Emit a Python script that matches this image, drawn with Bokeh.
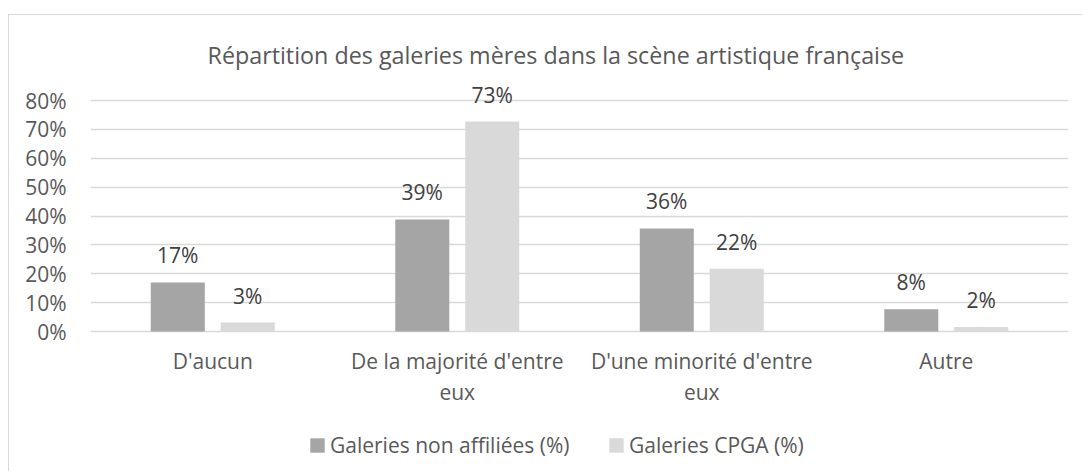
from bokeh.plotting import figure
from bokeh.models import (ColumnDataSource, Range1d, FactorRange, FixedTicker,
                          PrintfTickFormatter, Legend, LegendItem)
from bokeh.transform import dodge
from bokeh.embed import file_html
from bokeh.resources import INLINE

categories = ["D'aucun", "De la majorité d'entre\neux", "D'une minorité d'entre\neux", "Autre"]
non_affiliees = [17, 38.8, 35.7, 7.7]
cpga = [3.1, 72.7, 21.7, 1.6]
series_names = ["Galeries non affiliées (%)", "Galeries CPGA (%)"]
y_ticks = [0, 10, 20, 30, 40, 50, 60, 70, 80]
title_text = "Répartition des galeries mères dans la scène artistique française"

FONT = "Open Sans"
TXT = "#595959"

src = ColumnDataSource(dict(
    cat=categories,
    a=non_affiliees,
    b=cpga,
    zero=[0] * len(categories),
    la=[f"{round(v)}%" for v in non_affiliees],
    lb=[f"{round(v)}%" for v in cpga],
))

p = figure(width=1074, height=457, x_range=FactorRange(factors=categories, range_padding=0),
           y_range=Range1d(-48.83, 85.89), output_backend="svg", toolbar_location=None,
           min_border_left=81, min_border_right=15, min_border_top=68, min_border_bottom=0)
p.styles = {"margin-top": "14px", "margin-left": "8px",
            "border-left": "1px solid #D9D9D9", "border-top": "1px solid #D9D9D9"}
p.outline_line_color = None
p.background_fill_color = "white"
p.border_fill_color = "white"

p.title.text = title_text
p.title.text_font = FONT
p.title.text_font_size = "23.3px"
p.title.text_font_style = "normal"
p.title.text_color = TXT
p.title.align = "left"
p.title.offset = 117
p.title.standoff = 26

ra = p.vbar(x=dodge("cat", -0.143, range=p.x_range), top="a", width=0.221, source=src,
            fill_color="#A5A5A5", line_color=None)
rb = p.vbar(x=dodge("cat", 0.143, range=p.x_range), top="b", width=0.221, source=src,
            fill_color="#D9D9D9", line_color=None)

for col, lab, off in (("a", "la", -0.143), ("b", "lb", 0.143)):
    p.text(x=dodge("cat", off, range=p.x_range), y=col, text=lab, source=src,
           text_align="center", text_baseline="middle", y_offset=-27,
           text_font={"value": FONT}, text_font_size="21px", text_color="#404040")

# category labels (drawn below the baseline)
p.text(x="cat", y="zero", text="cat", source=src, text_align="center", text_baseline="top",
       y_offset=15, text_font={"value": FONT}, text_font_size="21px", text_color=TXT,
       text_line_height=1.12)

p.xgrid.grid_line_color = None
p.ygrid.grid_line_color = "#D9D9D9"
p.ygrid.grid_line_width = 1.5
p.xaxis.visible = False

p.yaxis.ticker = FixedTicker(ticks=y_ticks)
p.yaxis.formatter = PrintfTickFormatter(format="%d%%")
p.yaxis.axis_line_color = None
p.yaxis.major_tick_line_color = None
p.yaxis.minor_tick_line_color = None
p.yaxis.major_label_standoff = 18
p.yaxis.major_label_text_font = FONT
p.yaxis.major_label_text_font_size = "21px"
p.yaxis.major_label_text_color = TXT

legend = Legend(items=[LegendItem(label=series_names[0], renderers=[ra]),
                       LegendItem(label=series_names[1], renderers=[rb])],
                orientation="horizontal", location=(218, 13),
                glyph_width=18, glyph_height=18, label_standoff=4, label_width=277,
                spacing=0, padding=0, margin=0, border_line_color=None,
                background_fill_alpha=0, label_text_font=FONT, label_text_font_size="21px",
                label_text_color=TXT)
p.add_layout(legend, "center")

open("out.html", "w").write(file_html(p, INLINE))
